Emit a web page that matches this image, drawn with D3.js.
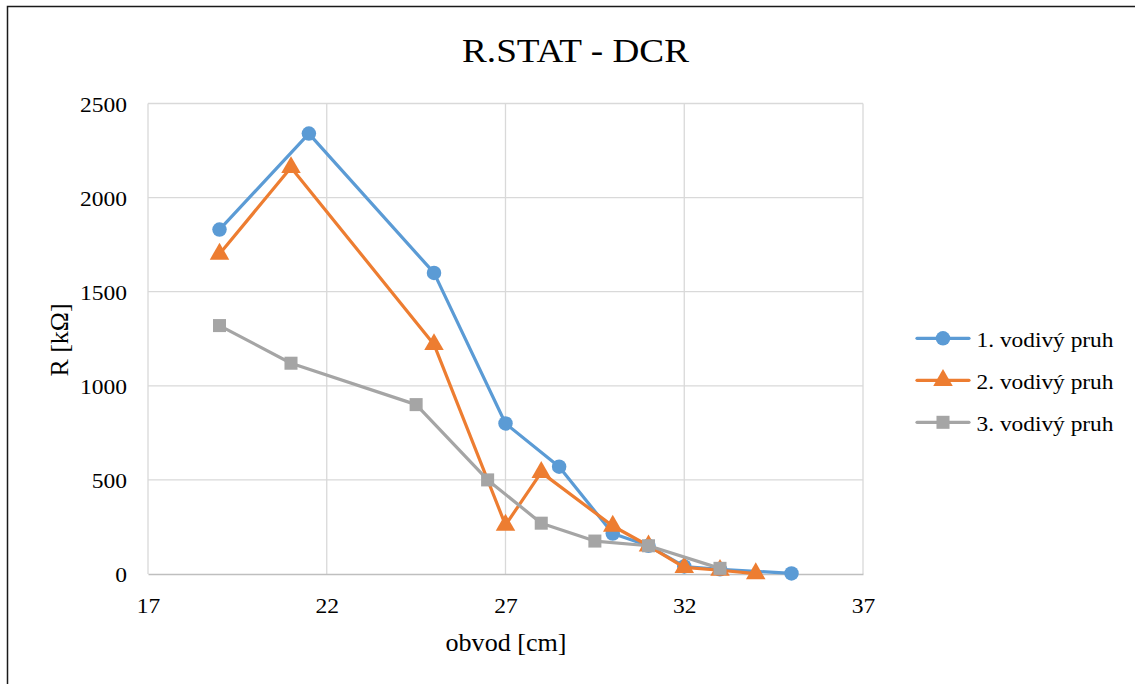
<!DOCTYPE html>
<html>
<head>
<meta charset="utf-8">
<script src="https://cdn.jsdelivr.net/npm/d3@7/dist/d3.min.js"></script>
<style>
  html, body { margin: 0; padding: 0; background: #fff; }
  svg { display: block; }
</style>
</head>
<body>
<svg id="chart" width="1135" height="684"></svg>
<script>
// Resistance along circumference, three conductive stripes
const seriesNames = ["1. vodivý pruh", "2. vodivý pruh", "3. vodivý pruh"];
const seriesColors = ["#5B9BD5", "#ED7D31", "#A5A5A5"];
const seriesMarkers = ["circle", "triangle", "square"];

const x1 = [19, 21.5, 25, 27, 28.5, 30, 31, 32, 33, 35];
const y1 = [1830, 2340, 1600, 800, 570, 215, 150, 40, 25, 3];

const x2 = [19, 21, 25, 27, 28, 30, 31, 32, 33, 34];
const y2 = [1700, 2160, 1220, 260, 540, 255, 150, 35, 20, 2];

const x3 = [19, 21, 24.5, 26.5, 28, 29.5, 31, 33];
const y3 = [1320, 1120, 900, 500, 270, 175, 150, 30];

const xTicks = [17, 22, 27, 32, 37];
const yTicks = [0, 500, 1000, 1500, 2000, 2500];

const titleText = "R.STAT - DCR";
const xTitle = "obvod [cm]";
const yTitle = "R [kΩ]";

// serif face, condensed to Times-like widths with textLength
const FONT = "'Liberation Serif', 'Times New Roman', 'DejaVu Serif', serif";
const DIGIT_W = 11.75;

const series = [
  { name: seriesNames[0], color: seriesColors[0], marker: seriesMarkers[0], pts: x1.map((x, i) => [x, y1[i]]) },
  { name: seriesNames[1], color: seriesColors[1], marker: seriesMarkers[1], pts: x2.map((x, i) => [x, y2[i]]) },
  { name: seriesNames[2], color: seriesColors[2], marker: seriesMarkers[2], pts: x3.map((x, i) => [x, y3[i]]) }
];

const svg = d3.select("#chart").attr("font-family", FONT);

// chart frame
svg.append("rect")
  .attr("x", 7.5).attr("y", 6.5)
  .attr("width", 1140).attr("height", 700)
  .attr("fill", "#fff").attr("stroke", "#1a1a1a").attr("stroke-width", 1.5);

const plot = { left: 148, right: 863, top: 103.5, bottom: 574 };

const x = d3.scaleLinear().domain([17, 37]).range([plot.left, plot.right]);
const y = d3.scaleLinear().domain([0, 2500]).range([plot.bottom, plot.top]);

// gridlines
const grid = svg.append("g");
grid.selectAll("line.h").data(yTicks.filter(d => d > 0)).join("line")
  .attr("x1", plot.left).attr("x2", plot.right)
  .attr("y1", d => y(d)).attr("y2", d => y(d))
  .attr("stroke", "#D9D9D9").attr("stroke-width", 1.3);
grid.selectAll("line.v").data(xTicks).join("line")
  .attr("x1", d => x(d)).attr("x2", d => x(d))
  .attr("y1", plot.top).attr("y2", plot.bottom)
  .attr("stroke", "#D9D9D9").attr("stroke-width", 1.3);

// horizontal axis line at zero
const fmt = d3.format("d");
const xAxis = d3.axisBottom(x).tickValues(xTicks).tickFormat(fmt).tickSize(0);
const gx = svg.append("g").attr("transform", `translate(0,${y(0)})`).call(xAxis);
gx.attr("font-family", FONT);
gx.select(".domain").attr("stroke", "#BFBFBF").attr("stroke-width", 1.5);
gx.selectAll("text")
  .attr("font-size", 21).attr("fill", "#000")
  .attr("y", 38.5).attr("dy", 0)
  .attr("textLength", d => fmt(d).length * DIGIT_W).attr("lengthAdjust", "spacingAndGlyphs");

const yAxis = d3.axisLeft(y).tickValues(yTicks).tickFormat(fmt).tickSize(0);
const gy = svg.append("g").attr("transform", `translate(${plot.left},0)`).call(yAxis);
gy.attr("font-family", FONT);
gy.select(".domain").remove();
gy.selectAll("text")
  .attr("font-size", 21).attr("fill", "#000")
  .attr("x", -21).attr("dy", "0.36em")
  .attr("textLength", d => fmt(d).length * DIGIT_W).attr("lengthAdjust", "spacingAndGlyphs");

// titles
svg.append("text").attr("x", 575.5).attr("y", 62.3).attr("text-anchor", "middle")
  .attr("font-size", 34).attr("textLength", 227).attr("lengthAdjust", "spacingAndGlyphs")
  .text(titleText);
svg.append("text").attr("x", 506).attr("y", 651).attr("text-anchor", "middle")
  .attr("font-size", 26).attr("textLength", 121).attr("lengthAdjust", "spacingAndGlyphs")
  .text(xTitle);
svg.append("text").attr("transform", "translate(68,340) rotate(-90)").attr("text-anchor", "middle")
  .attr("font-size", 25).attr("textLength", 73).attr("lengthAdjust", "spacingAndGlyphs")
  .text(yTitle);

// marker shapes
function markerPath(type) {
  if (type === "circle") return d3.symbol(d3.symbolCircle, 165)();
  if (type === "square") return d3.symbol(d3.symbolSquare, 170)();
  return d3.symbol(d3.symbolTriangle, 165)();
}

const line = d3.line().x(d => x(d[0])).y(d => y(d[1]));

series.forEach(s => {
  const g = svg.append("g");
  g.append("path").datum(s.pts).attr("d", line)
    .attr("fill", "none").attr("stroke", s.color).attr("stroke-width", 3.2)
    .attr("stroke-linejoin", "round").attr("stroke-linecap", "round");
  g.selectAll("path.m").data(s.pts).join("path")
    .attr("class", "m")
    .attr("d", markerPath(s.marker))
    .attr("transform", d => `translate(${x(d[0])},${y(d[1])})`)
    .attr("fill", s.color);
});

// legend
const legend = svg.append("g");
series.forEach((s, i) => {
  const ly = 338.3 + i * 42;
  legend.append("line").attr("x1", 917).attr("x2", 969).attr("y1", ly).attr("y2", ly)
    .attr("stroke", s.color).attr("stroke-width", 3.2).attr("stroke-linecap", "round");
  legend.append("path").attr("d", markerPath(s.marker))
    .attr("transform", `translate(943,${ly})`).attr("fill", s.color);
  legend.append("text").attr("x", 976.5).attr("y", ly + 8.4)
    .attr("font-size", 21).attr("textLength", 137).attr("lengthAdjust", "spacingAndGlyphs")
    .text(s.name);
});
</script>
</body>
</html>
